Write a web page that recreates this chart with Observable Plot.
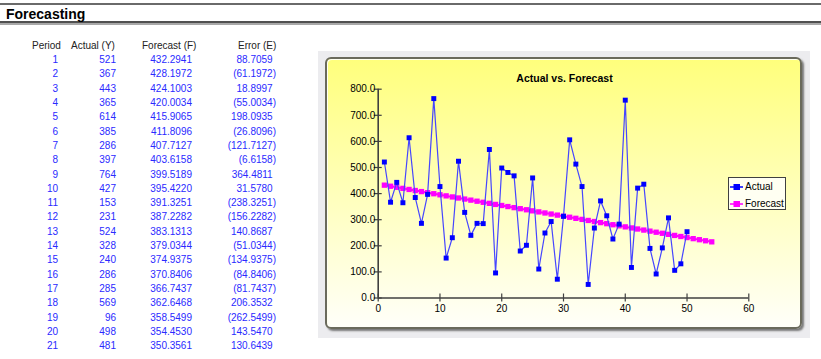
<!DOCTYPE html>
<html><head><meta charset="utf-8">
<script src="https://cdn.jsdelivr.net/npm/d3@7"></script>
<script src="https://cdn.jsdelivr.net/npm/@observablehq/plot@0.6"></script>
<style>
html,body{margin:0;padding:0}
body{width:821px;height:359px;overflow:hidden;background:#fff;font-family:Arial,"Liberation Sans",sans-serif;position:relative}
.abs{position:absolute}
#line1{left:0;top:3px;width:821px;height:2px;background:#6a6a6a}
#line2{left:0;top:21px;width:821px;height:2px;background:#505050}
#line3{left:0;top:23px;width:821px;height:1.5px;background:#a8a8a8}
#title{left:6px;top:5.5px;font-size:14px;line-height:16px;font-weight:bold;color:#000}
.row{position:absolute;left:0;width:300px;height:14.3px;font-size:10px;line-height:14.3px;color:#2a2aff}
.row.head{color:#222}
.cell{position:absolute;top:0;white-space:nowrap}
.r{text-align:right}
#frame{left:318px;top:51px;width:492px;height:287px;background:#ececef}
#panel{left:325px;top:57px;width:477px;height:272px;box-sizing:border-box;border:2px solid #6a6a5c;border-radius:6px;
  background:linear-gradient(#ffff7c,#fffff9);box-shadow:2px 2px 2px #7a7a7a, inset 1px 1px 0 #fffff0}
#plot{left:327px;top:59px}
#ctitle{left:464.5px;top:71.8px;width:200px;text-align:center;font-size:10.5px;line-height:12px;font-weight:bold;color:#000}
#legend{left:728px;top:177px;width:58px;height:33px;box-sizing:border-box;border:1px solid #404040;background:#fffff2;font-size:10px;color:#000}
.li{position:absolute;left:0;height:12px;line-height:12px;white-space:nowrap}
.li svg{position:absolute;left:1px;top:0}
.li span{position:absolute;left:16px;top:0}
</style></head><body>
<div id="line1" class="abs"></div>
<div id="line2" class="abs"></div>
<div id="line3" class="abs"></div>
<div id="title" class="abs">Forecasting</div>
<div id="table"></div>
<div id="frame" class="abs"></div>
<div id="panel" class="abs"></div>
<div id="plot" class="abs"></div>
<div id="ctitle" class="abs">Actual vs. Forecast</div>
<div id="legend" class="abs"></div>
<script>
const headers = ["Period", "Actual (Y)", "Forecast (F)", "Error (E)"];
const periods = [1,2,3,4,5,6,7,8,9,10,11,12,13,14,15,16,17,18,19,20,21,22,23,24,25,26,27,28,29,30,31,32,33,34,35,36,37,38,39,40,41,42,43,44,45,46,47,48,49,50,51,52,53,54];
const actual = [521,367,443,365,614,385,286,397,764,427,153,231,524,328,240,286,285,569,96,498,481,
  468,180,202,460,111,249,293,72,313,606,513,427,52,268,372,315,226,283,758,117,421,436,190,92,192,307,106,131,254];
const forecast = [432.2941,428.1972,424.1003,420.0034,415.9065,411.8096,407.7127,403.6158,399.5189,395.4220,
  391.3251,387.2282,383.1313,379.0344,374.9375,370.8406,366.7437,362.6468,358.5499,354.4530,350.3561,
  346.2592,342.1623,338.0654,333.9685,329.8716,325.7747,321.6778,317.5809,313.4840,309.3871,305.2902,
  301.1933,297.0964,292.9995,288.9026,284.8057,280.7088,276.6119,272.5150,268.4181,264.3212,260.2243,
  256.1274,252.0305,247.9336,243.8367,239.7398,235.6429,231.5460,227.4491,223.3522,219.2553,215.1584];
const visibleRows = 21;
const seriesNames = ["Actual", "Forecast"];
const seriesColors = ["#0000ff", "#ff00ff"];
const xTicks = [0,10,20,30,40,50,60];
const yTicks = [0,100,200,300,400,500,600,700,800];

// ---- table ----
const table = document.getElementById("table");
const rowH = 14.3, firstTop = 38.85;
function addRow(i, cells, head) {
  const r = document.createElement("div");
  r.className = "row" + (head ? " head" : "");
  r.style.top = (firstTop + i * rowH) + "px";
  r.innerHTML = cells;
  table.appendChild(r);
}
addRow(0,
  `<span class="cell" style="left:32px">${headers[0]}</span>` +
  `<span class="cell" style="left:71px">${headers[1]}</span>` +
  `<span class="cell" style="left:142px">${headers[2]}</span>` +
  `<span class="cell" style="left:238px">${headers[3]}</span>`, true);
actual.slice(0, visibleRows).forEach((a, i) => {
  const e = a - forecast[i];
  const es = e < 0 ? `(${Math.abs(e).toFixed(4)})` : `${e.toFixed(4)}<span style="visibility:hidden">)</span>`;
  addRow(i + 1,
    `<span class="cell r" style="left:18px;width:40px">${periods[i]}</span>` +
    `<span class="cell r" style="left:76px;width:40px">${a}</span>` +
    `<span class="cell r" style="left:132px;width:60px">${forecast[i].toFixed(4)}</span>` +
    `<span class="cell r" style="left:196px;width:80px">${es}</span>`);
});

// ---- chart ----
const data = periods.map((p, i) => ({period: p, actual: actual[i], forecast: forecast[i]}));
const actualData = data.filter(d => d.actual != null);
const axisColor = "#404040";
const chart = Plot.plot({
  width: 473, height: 268,
  marginLeft: 50.7, marginRight: 51.7, marginTop: 29.7, marginBottom: 29.5,
  style: {background: "transparent", overflow: "visible", fontFamily: "Arial, 'Liberation Sans', sans-serif", fontSize: "10px", color: "#000"},
  x: {domain: [0, 60], label: null},
  y: {domain: [0, 800], label: null},
  marks: [
    Plot.axisX({ticks: xTicks, tickSize: 8, dy: -4, tickFormat: () => "", stroke: axisColor, strokeWidth: 1.2, label: null}),
    Plot.axisX({ticks: xTicks, tickSize: 0, tickPadding: 6.5, tickFormat: d => String(d), fill: "#000", label: null}),
    Plot.axisY({ticks: yTicks, tickSize: 8, dx: 4, tickFormat: () => "", stroke: axisColor, strokeWidth: 1.2, label: null}),
    Plot.axisY({ticks: yTicks, tickSize: 0, tickPadding: 3, tickFormat: d => d.toFixed(1), fill: "#000", label: null}),
    Plot.ruleX([0], {stroke: axisColor, strokeWidth: 1.6}),
    Plot.ruleY([0], {stroke: axisColor, strokeWidth: 1.6}),
    Plot.line(data, {x: "period", y: "forecast", stroke: seriesColors[1], strokeWidth: 2}),
    Plot.dot(data, {x: "period", y: "forecast", symbol: "square", r: 3, fill: seriesColors[1], stroke: null}),
    Plot.line(actualData, {x: "period", y: "actual", stroke: "#4646ff", strokeWidth: 1.2}),
    Plot.dot(actualData, {x: "period", y: "actual", symbol: "square", r: 2.8, fill: seriesColors[0], stroke: null})
  ]
});
document.getElementById("plot").appendChild(chart);

// ---- legend ----
const legend = document.getElementById("legend");
seriesNames.forEach((name, i) => {
  const it = document.createElement("div");
  it.className = "li";
  it.style.top = (2.7 + i * 17) + "px";
  const c = seriesColors[i];
  it.innerHTML = `<svg width="14" height="12"><line x1="0" x2="13" y1="6" y2="6" stroke="${c}" stroke-width="1.5"/><rect x="3.5" y="3" width="6.5" height="6" fill="${c}"/></svg><span>${name}</span>`;
  legend.appendChild(it);
});
</script>
</body></html>
